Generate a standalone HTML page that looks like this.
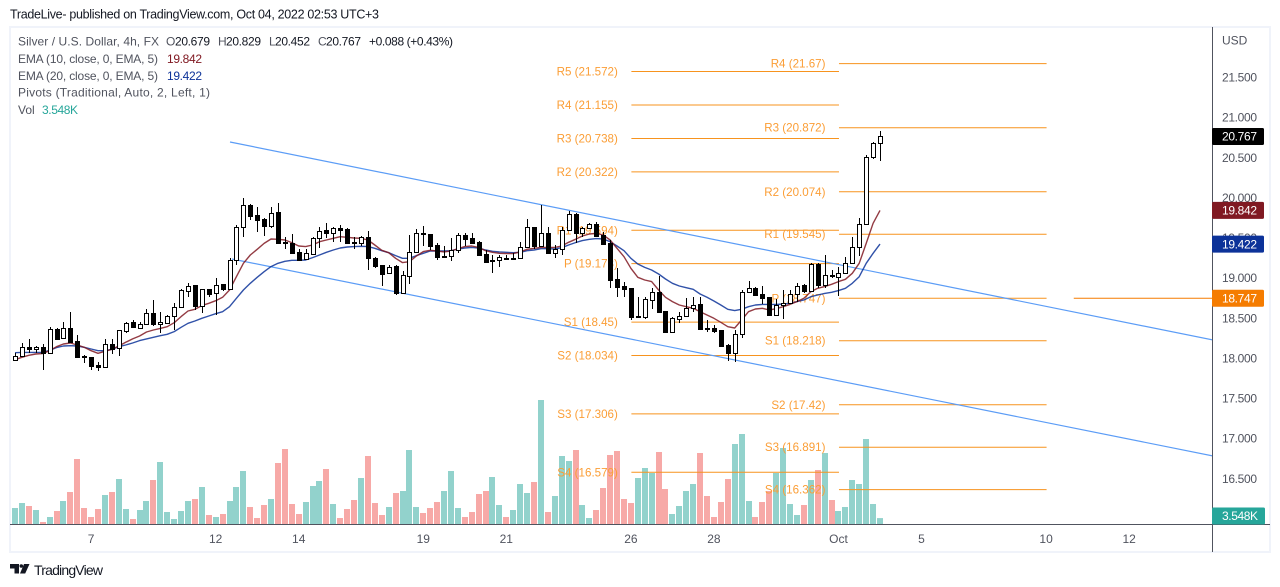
<!DOCTYPE html>
<html lang="en">
<head>
<meta charset="utf-8">
<title>Silver / U.S. Dollar chart</title>
<style>
html,body{margin:0;padding:0;background:#fff;width:1280px;height:587px;overflow:hidden}
svg{display:block;font-family:"Liberation Sans",sans-serif}
</style>
</head>
<body>
<svg id="chart" xmlns="http://www.w3.org/2000/svg" width="1280" height="587" viewBox="0 0 1280 587">
  <defs><clipPath id="plot-clip"><rect x="11" y="28" width="1201.5" height="496.5"/></clipPath></defs>
  <text x="10" y="18.5" font-size="12.5" fill="#131722" textLength="369" lengthAdjust="spacing">TradeLive- published on TradingView.com, Oct 04, 2022 02:53 UTC+3</text>
  <rect x="10" y="27" width="1260" height="525" fill="#fff" stroke="#f0f3fa" stroke-width="2"/>
  <g id="plot" clip-path="url(#plot-clip)">
    <g id="volumes"></g>
    <g id="pivots"></g>
    <line x1="230" y1="142" x2="1213" y2="340" stroke="#5b9cf6" stroke-width="1.2"/>
    <line x1="232" y1="259" x2="1213" y2="456" stroke="#5b9cf6" stroke-width="1.2"/>
    <g id="emas"></g>
    <g id="candles"></g>
  </g>
  <line x1="10" y1="524.5" x2="1270" y2="524.5" stroke="#50535e"/>
  <line x1="1212.5" y1="27" x2="1212.5" y2="552" stroke="#50535e"/>
  <g id="price-axis">
    <text x="1222" y="44.5" font-size="12" fill="#50535e">USD</text>
  </g>
  <g id="time-axis"></g>
  <g id="badges"></g>
  <g font-size="12" fill="#50535e">
    <text x="18" y="45.5" textLength="141" lengthAdjust="spacing">Silver / U.S. Dollar, 4h, FX</text>
    <text x="166" y="45.5">O</text>
    <text x="175" y="45.5" fill="#131722" textLength="35" lengthAdjust="spacing">20.679</text>
    <text x="218" y="45.5">H</text>
    <text x="226" y="45.5" fill="#131722" textLength="35" lengthAdjust="spacing">20.829</text>
    <text x="269" y="45.5">L</text>
    <text x="275" y="45.5" fill="#131722" textLength="35" lengthAdjust="spacing">20.452</text>
    <text x="318" y="45.5">C</text>
    <text x="326" y="45.5" fill="#131722" textLength="35" lengthAdjust="spacing">20.767</text>
    <text x="369" y="45.5" fill="#131722" textLength="84" lengthAdjust="spacing">+0.088 (+0.43%)</text>
    <text x="18" y="63" textLength="140" lengthAdjust="spacing">EMA (10, close, 0, EMA, 5)</text>
    <text x="167" y="63" fill="#801922" textLength="35" lengthAdjust="spacing">19.842</text>
    <text x="18" y="80" textLength="140" lengthAdjust="spacing">EMA (20, close, 0, EMA, 5)</text>
    <text x="167" y="80" fill="#0c3299" textLength="35" lengthAdjust="spacing">19.422</text>
    <text x="18" y="96.5" textLength="192" lengthAdjust="spacing">Pivots (Traditional, Auto, 2, Left, 1)</text>
    <text x="18" y="114">Vol</text>
    <text x="42" y="114" fill="#26a69a" textLength="36" lengthAdjust="spacing">3.548K</text>
  </g>
  <g>
    <path fill="#131722" d="M10 564h9v9.500h-4.500v-5H10zM24 564h5.500l-4.300 9.500H20z"/>
    <circle cx="21.300" cy="566" r="1.800" fill="#131722"/>
    <text x="34" y="575" font-size="14" fill="#131722" textLength="69" lengthAdjust="spacing">TradingView</text>
  </g>
</svg>
<script>
const opens = [17.978,18.032,18.136,18.119,18.136,18.061,18.360,18.248,18.377,18.210,18.028,18.011,17.912,17.895,18.177,18.123,18.343,18.447,18.381,18.431,18.559,18.431,18.443,18.522,18.642,18.842,18.908,18.655,18.858,18.809,18.921,18.858,19.220,19.631,19.909,19.780,19.731,19.652,19.818,19.448,19.440,19.324,19.232,19.303,19.494,19.598,19.564,19.618,19.610,19.448,19.432,19.506,19.253,19.157,19.058,19.145,18.817,19.029,19.319,19.556,19.544,19.407,19.265,19.270,19.353,19.531,19.494,19.444,19.294,19.207,19.220,19.253,19.249,19.253,19.382,19.631,19.402,19.564,19.307,19.365,19.598,19.797,19.564,19.618,19.672,19.535,19.440,18.987,18.900,18.871,18.514,18.518,18.730,18.821,18.588,18.331,18.493,18.522,18.622,18.672,18.377,18.372,18.348,18.165,18.061,18.298,18.821,18.875,18.796,18.759,18.543,18.659,18.692,18.796,18.908,18.838,19.174,18.916,19.037,19.016,19.058,19.191,19.390,19.668,20.511,20.679];
const highs = [18.061,18.186,18.240,18.152,18.177,18.385,18.372,18.451,18.576,18.289,18.040,18.020,17.957,18.240,18.240,18.352,18.456,18.472,18.451,18.609,18.725,18.572,18.543,18.684,18.858,18.933,18.912,18.863,18.863,18.995,18.925,19.245,19.660,19.992,19.917,19.880,19.743,19.880,19.930,19.515,19.548,19.365,19.357,19.515,19.639,19.681,19.639,19.660,19.618,19.506,19.523,19.581,19.265,19.162,19.162,19.157,19.091,19.535,19.610,19.647,19.548,19.432,19.398,19.494,19.556,19.564,19.564,19.465,19.348,19.286,19.282,19.286,19.307,19.444,19.731,19.639,19.909,19.639,19.411,19.639,19.838,19.805,19.631,19.689,19.693,19.577,19.473,19.120,18.954,18.875,18.759,18.767,18.871,19.025,18.593,18.510,18.580,18.746,18.767,18.759,18.476,18.414,18.352,18.177,18.352,18.850,18.958,18.892,18.900,18.767,18.734,18.850,18.850,18.933,18.921,19.191,19.191,19.286,19.099,19.141,19.265,19.514,19.743,20.532,20.698,20.829];
const lows = [17.970,18.020,18.061,18.069,17.853,18.061,18.240,18.240,18.202,18.007,17.945,17.853,17.841,17.895,18.053,18.028,18.318,18.377,18.381,18.431,18.406,18.318,18.426,18.352,18.642,18.767,18.601,18.568,18.767,18.543,18.842,18.858,19.166,19.515,19.722,19.577,19.523,19.627,19.440,19.361,19.315,19.216,19.224,19.286,19.373,19.498,19.452,19.452,19.440,19.357,19.398,19.103,19.128,18.900,19.049,18.784,18.817,18.921,19.307,19.398,19.348,19.224,19.265,19.216,19.315,19.398,19.423,19.278,19.191,19.058,19.141,19.232,19.240,19.253,19.382,19.357,19.382,19.307,19.245,19.290,19.589,19.432,19.515,19.606,19.527,19.419,18.879,18.767,18.767,18.476,18.505,18.485,18.609,18.568,18.318,18.310,18.443,18.518,18.580,18.360,18.331,18.318,18.157,17.965,17.957,18.256,18.821,18.779,18.671,18.534,18.543,18.493,18.676,18.705,18.817,18.829,18.879,18.871,18.995,18.779,19.049,19.182,19.278,19.668,20.482,20.452];
const closes = [18.032,18.136,18.115,18.140,18.061,18.360,18.244,18.372,18.206,18.020,18.011,17.907,17.895,18.173,18.115,18.348,18.443,18.385,18.431,18.559,18.426,18.447,18.522,18.642,18.846,18.904,18.651,18.858,18.800,18.917,18.858,19.220,19.631,19.905,19.776,19.726,19.652,19.814,19.440,19.432,19.315,19.224,19.307,19.494,19.589,19.564,19.618,19.602,19.440,19.432,19.506,19.249,19.149,19.049,19.141,18.817,19.033,19.319,19.556,19.544,19.402,19.265,19.274,19.353,19.531,19.490,19.440,19.290,19.199,19.220,19.257,19.245,19.253,19.382,19.631,19.402,19.556,19.307,19.365,19.602,19.793,19.564,19.618,19.668,19.527,19.423,18.979,18.892,18.867,18.518,18.526,18.734,18.821,18.580,18.331,18.497,18.522,18.622,18.667,18.364,18.364,18.339,18.157,18.061,18.298,18.821,18.871,18.788,18.754,18.543,18.659,18.692,18.796,18.904,18.838,19.170,18.916,19.033,19.020,19.058,19.191,19.390,19.668,20.511,20.677,20.767];
const volumes = [9.6,12.6,10.8,8.4,1.2,4.2,7.8,13.8,19.2,39,9.6,4.2,9,17.4,19.2,27,9,3,8.4,13.8,26.4,37.2,7.2,3,7.8,13.8,15,22.2,5.4,4.2,6,13.8,22.2,31.8,10.2,3.6,11.4,15,36.6,45,12,6,13.2,22.8,25.8,33,12,3.6,9,14.4,27.6,40.8,12.6,5.4,10.2,18.6,19.8,44.4,10.2,6.6,9.6,13.2,19.8,31.8,9.6,4.2,7.2,18,19.8,28.2,11.4,4.2,8.4,24,18.6,25.2,74.4,7.2,16.8,40.8,37.8,44.4,11.4,3.6,8.4,21.6,41.4,43.8,15,12.6,27.6,33.6,30.6,43.2,21,6,10.8,19.8,24,42.6,16.8,4.2,13.2,27,48,54,13.8,4.2,13.2,19.8,30.6,45.6,12,5.4,11.4,26.4,32.4,42.6,14.4,7.8,10.2,26.4,24,51,12,3.548];
const ema10 = [17.982,18.011,18.036,18.053,18.057,18.094,18.144,18.177,18.190,18.165,18.136,18.094,18.061,18.086,18.111,18.152,18.198,18.240,18.277,18.327,18.352,18.372,18.393,18.443,18.518,18.588,18.609,18.655,18.684,18.717,18.759,18.850,19.016,19.182,19.286,19.357,19.431,19.485,19.481,19.473,19.440,19.398,19.390,19.411,19.452,19.473,19.494,19.514,19.506,19.498,19.494,19.473,19.411,19.344,19.315,19.245,19.191,19.203,19.274,19.328,19.344,19.336,19.324,19.336,19.365,19.390,19.398,19.381,19.340,19.319,19.307,19.303,19.303,19.324,19.357,19.369,19.381,19.381,19.381,19.398,19.444,19.481,19.523,19.548,19.556,19.535,19.473,19.369,19.265,19.120,19.008,18.975,18.954,18.850,18.759,18.705,18.663,18.642,18.622,18.580,18.538,18.497,18.447,18.393,18.376,18.476,18.580,18.613,18.622,18.601,18.617,18.642,18.671,18.705,18.746,18.829,18.871,18.892,18.921,18.954,18.983,19.058,19.182,19.431,19.681,19.842];
const ema20 = [18.069,18.073,18.073,18.073,18.073,18.098,18.132,18.152,18.156,18.152,18.136,18.115,18.094,18.094,18.111,18.144,18.165,18.190,18.219,18.240,18.260,18.281,18.298,18.331,18.385,18.435,18.464,18.497,18.526,18.555,18.580,18.642,18.746,18.850,18.933,19.008,19.078,19.141,19.182,19.207,19.220,19.220,19.224,19.253,19.286,19.319,19.348,19.373,19.386,19.390,19.394,19.390,19.369,19.340,19.315,19.278,19.245,19.245,19.278,19.307,19.336,19.336,19.336,19.340,19.361,19.373,19.381,19.373,19.348,19.332,19.324,19.319,19.315,19.319,19.340,19.348,19.365,19.365,19.361,19.377,19.411,19.440,19.465,19.481,19.490,19.485,19.452,19.398,19.340,19.245,19.174,19.132,19.099,19.049,18.987,18.933,18.900,18.879,18.858,18.800,18.759,18.713,18.663,18.609,18.593,18.609,18.642,18.663,18.671,18.671,18.671,18.676,18.684,18.705,18.725,18.767,18.788,18.808,18.821,18.842,18.871,18.933,19.016,19.182,19.307,19.422];
const priceTicks = [21.5,21,20.5,20,19.5,19,18.5,18,17.5,17,16.5];
const timeTickBars = [11,29,41,59,71,89,101,119,131,149,161];
const timeTickLabels = ["7","12","14","19","21","26","28","Oct","5","10","12"];
const septPivotNames = ["R5","R4","R3","R2","R1","P","S1","S2","S3","S4"];
const septPivotValues = ["21.572","21.155","20.738","20.322","19.594","19.178","18.45","18.034","17.306","16.579"];
const octPivotNames = ["R4","R3","R2","R1","P","S1","S2","S3","S4"];
const octPivotValues = ["21.67","20.872","20.074","19.545","18.747","18.218","17.42","16.891","16.362"];
const septPeriodBars = [89,119];
const octPeriodBars = [119,149];
const priceLineBars = [153,171];
const lastClose = 20.767;
const lastEma10 = 19.842;
const lastEma20 = 19.422;
const pivotPrice = 18.747;
const lastVolumeLabel = "3.548K";

const NS = 'http://www.w3.org/2000/svg';
const xAt = i => 15 + 6.92 * i;
const yAt = p => 77.3 + (21.5 - p) * 80.26;
const volY = v => 524 - v / 0.6;
const crisp = v => Math.round(v);
function make(parent, tag, attrs) {
  const el = document.createElementNS(NS, tag);
  for (const k in attrs) el.setAttribute(k, attrs[k]);
  parent.appendChild(el);
  return el;
}
const volG = document.getElementById('volumes');
const candleG = document.getElementById('candles');
const emaG = document.getElementById('emas');
const pivotG = document.getElementById('pivots');
const priceG = document.getElementById('price-axis');
const timeG = document.getElementById('time-axis');
const badgeG = document.getElementById('badges');

volumes.forEach((v, i) => {
  const up = closes[i] >= opens[i];
  const top = volY(v);
  const el = make(volG, 'rect', {x: crisp(xAt(i) - 3), y: top, width: 6, height: 524 - top, fill: up ? '#92d2cc' : '#f7a9a7'});
  
  
});

function drawPivots(names, values, bars, groupName) {
  names.forEach((n, i) => {
    const v = parseFloat(values[i]);
    const y = yAt(v);
    const line = make(pivotG, 'line', {x1: xAt(bars[0]) + 0.5, x2: xAt(bars[1]) + 0.5, y1: y, y2: y, stroke: '#f7931e', 'stroke-width': 1});
    
    
    const t = make(pivotG, 'text', {x: xAt(bars[0]) - 13, y: y + 4, 'text-anchor': 'end', 'font-size': 11.6, fill: '#fb9e36'});
    t.textContent = n + ' (' + values[i] + ')';
    
    
  });
}
drawPivots(septPivotNames, septPivotValues, septPeriodBars, 'september-pivot');
drawPivots(octPivotNames, octPivotValues, octPeriodBars, 'october-pivot');
const priceLine = make(pivotG, 'line', {x1: xAt(priceLineBars[0]), x2: 1213, y1: yAt(pivotPrice), y2: yAt(pivotPrice), stroke: '#f57c00', 'stroke-width': 1});



function drawEma(values, color, name) {
  const pts = values.map((p, i) => xAt(i).toFixed(1) + ',' + yAt(p).toFixed(1)).join(' ');
  const el = make(emaG, 'polyline', {points: pts, fill: 'none', stroke: color, 'stroke-width': 1.4, 'stroke-opacity': 0.85, 'stroke-linejoin': 'round'});
  
  
}
drawEma(ema20, '#0c3299', 'ema-20-line');
drawEma(ema10, '#801922', 'ema-10-line');

opens.forEach((o, i) => {
  const c = closes[i];
  const up = c >= o;
  const cx = crisp(xAt(i));
  const wick = make(candleG, 'line', {x1: cx + 0.5, x2: cx + 0.5, y1: crisp(yAt(highs[i])), y2: crisp(yAt(lows[i])), stroke: '#000', 'stroke-width': 1});
  
  
  const top = crisp(yAt(Math.max(o, c)));
  const bot = crisp(yAt(Math.min(o, c)));
  const body = make(candleG, 'rect', {x: cx - 1.5, y: top + 0.5, width: 4, height: Math.max(bot - top, 1), fill: up ? '#fff' : '#000', stroke: '#000', 'stroke-width': 1});
  
  
});

priceTicks.forEach(p => {
  const t = make(priceG, 'text', {x: 1222, y: yAt(p) + 4.2, 'font-size': 12, fill: '#50535e', textLength: 35, lengthAdjust: 'spacing'});
  t.textContent = p.toFixed(3);
  
  
});

timeTickBars.forEach((b, i) => {
  const t = make(timeG, 'text', {x: xAt(b), y: 543, 'text-anchor': 'middle', 'font-size': 12, fill: '#50535e'});
  t.textContent = timeTickLabels[i];
  
  
});

function badge(cy, text, bg, name, w) {
  const r = make(badgeG, 'rect', {x: 1212, y: cy - 8.5, width: w, height: 17, rx: 1.5, fill: bg});
  
  
  const t = make(badgeG, 'text', {x: 1222, y: cy + 4.2, 'font-size': 12, fill: '#fff', textLength: text.endsWith('K') ? 36 : 35, lengthAdjust: 'spacing'});
  t.textContent = text;
  
  
}
badge(yAt(lastClose) + 0.4, lastClose.toFixed(3), '#000', 'last-price', 52);
badge(yAt(lastEma10), lastEma10.toFixed(3), '#801922', 'ema-10', 52);
badge(yAt(lastEma20), lastEma20.toFixed(3), '#0c3299', 'ema-20', 52);
badge(yAt(pivotPrice), pivotPrice.toFixed(3), '#f57c00', 'pivot', 52);
badge(516, lastVolumeLabel, '#26a69a', 'volume', 53);
</script>
</body>
</html>
